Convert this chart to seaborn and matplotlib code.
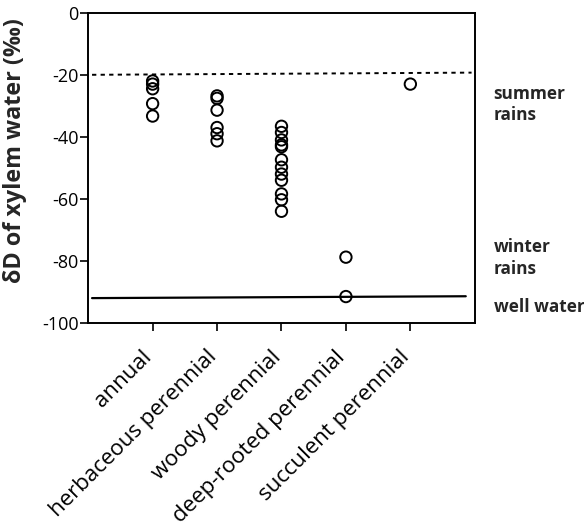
import matplotlib
matplotlib.use("Agg")
import matplotlib.pyplot as plt
from matplotlib.transforms import ScaledTranslation
import seaborn as sns
import pandas as pd

categories = ["annual", "herbaceous perennial", "woody perennial",
              "deep-rooted perennial", "succulent perennial"]
annual = [-22.0, -23.0, -24.5, -29.3, -33.3]
herbaceous = [-26.8, -27.6, -31.4, -37.0, -39.0, -41.3]
woody = [-36.6, -38.6, -41.0, -42.6, -43.2, -47.4, -49.8, -52.0, -54.0,
         -58.4, -60.3, -64.0]
deep_rooted = [-78.8, -91.5]
succulent = [-23.0]

summer_rain = [-20.0, -19.3]
well_water = [-92.0, -91.4]

yticks = [0, -20, -40, -60, -80, -100]
side_labels = ["summer\nrains", "winter\nrains", "well water"]
side_label_y = [-29.5, -79.0, -94.8]

series = [annual, herbaceous, woody, deep_rooted, succulent]
df = pd.DataFrame({
    "type": [c for c, vals in zip(categories, series) for _ in vals],
    "dD": [v for vals in series for v in vals],
})

sns.set_theme(style="ticks")
plt.rcParams["font.family"] = ["Open Sans", "DejaVu Sans"]

fig = plt.figure(figsize=(5.84, 5.32), dpi=100)
ax = fig.add_axes([0.151, 0.393, 0.662, 0.583])

sns.stripplot(data=df, x="type", y="dD", order=categories, jitter=False,
              size=8.2, linewidth=1.4, edgecolor="black", color="black",
              ax=ax, zorder=3)
for c in ax.collections:
    c.set_facecolor("none")
    c.set_edgecolor("black")

ax.plot([-0.94, 4.95], summer_rain, color="black", lw=1.4, ls=(0, (2.2, 2.2)), zorder=2)
ax.plot([-0.94, 4.86], well_water, color="black", lw=1.6, zorder=2)

ax.set_xlim(-1, 5)
ax.set_ylim(-100, 0)
ax.set_yticks(yticks)
ax.set_yticklabels([str(t) for t in yticks], fontsize=13)
ax.set_xlabel("")
ax.set_ylabel("δD of xylem water (‰)", fontsize=16.8, fontweight="bold")
ax.yaxis.set_label_coords(-0.1585, 0.557)
ax.set_xticks(range(len(categories)))
ax.set_xticklabels(categories, rotation=45, ha="right", rotation_mode="anchor",
                   fontsize=16)
ax.tick_params(axis="both", direction="out", length=6, width=1.2, color="black",
               labelcolor="black")
ax.tick_params(axis="y", pad=1.0)
ax.tick_params(axis="x", pad=11)
offset = ScaledTranslation(-8 / 72, 0, fig.dpi_scale_trans)
for lab in ax.get_xticklabels():
    lab.set_transform(lab.get_transform() + offset)
for s in ax.spines.values():
    s.set_visible(True)
    s.set_color("black")
    s.set_linewidth(1.4)

for lab, yv in zip(side_labels, side_label_y):
    ax.text(1.049, yv, lab, transform=ax.get_yaxis_transform(), ha="left",
            va="center", fontsize=12.4, fontweight="bold", linespacing=1.25,
            clip_on=False)

fig.savefig("out.png", dpi=100)
